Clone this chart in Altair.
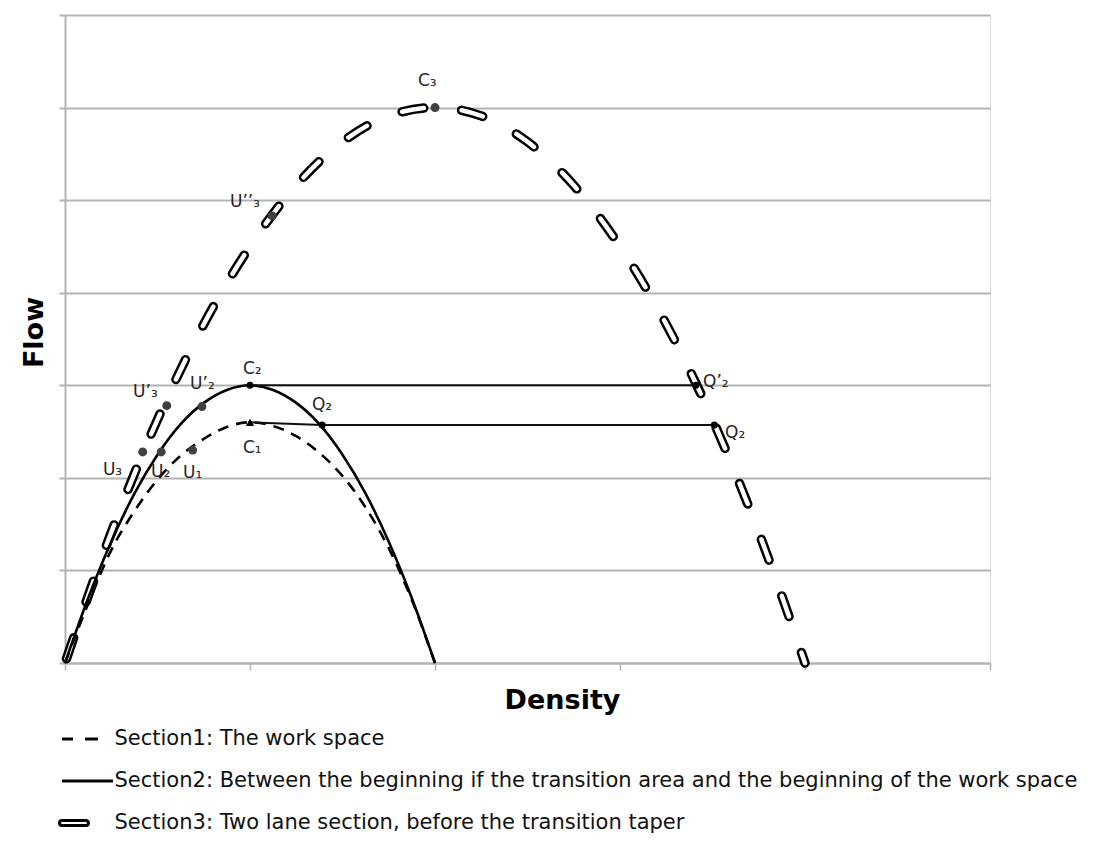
import altair as alt
import pandas as pd

# ---- curves (density units 0..5, flow units 0..7) ----
s12_x = [0, 0.125, 0.25, 0.375, 0.5, 0.625, 0.75, 0.875, 1.0,
         1.125, 1.25, 1.375, 1.5, 1.625, 1.75, 1.875, 2.0]
s1_y = [0, 0.64, 1.22, 1.64, 1.98, 2.24, 2.42, 2.55, 2.6,
        2.56, 2.45, 2.27, 2.02, 1.68, 1.24, 0.68, 0]
s2_y = [0, 0.70, 1.31, 1.83, 2.25, 2.58, 2.81, 2.95, 3.0,
        2.95, 2.81, 2.58, 2.25, 1.83, 1.31, 0.70, 0]
s3_x = [0, 0.25, 0.5, 0.75, 1.0, 1.25, 1.5, 1.75, 2.0,
        2.25, 2.5, 2.75, 3.0, 3.25, 3.5, 3.75, 4.0]
s3_y = [0, 1.41, 2.63, 3.66, 4.5, 5.16, 5.63, 5.91, 6.0,
        5.91, 5.63, 5.16, 4.5, 3.66, 2.63, 1.41, 0]

# connector lines
c2_x = [1.0, 3.41]
c2_y = [3.0, 3.0]
c1_x = [1.0, 1.39, 3.51]
c1_y = [2.6, 2.57, 2.57]

# marked points
gray_x = [2.0, 1.12, 0.55, 0.74, 0.42, 0.52, 0.69]
gray_y = [6.0, 4.83, 2.78, 2.77, 2.28, 2.28, 2.30]
black_x = [1.0, 1.39, 3.41, 3.51]
black_y = [3.0, 2.57, 3.0, 2.57]
tri_x = [1.0]
tri_y = [2.6]

# point labels
lab_text = ["C₃", "U’’₃", "C₂", "U’₂", "U’₃", "Q₂", "C₁", "U₃", "U₂", "U₁", "Q’₂", "Q₂"]
lab_x = [1.908, 0.892, 0.962, 0.676, 0.368, 1.335, 0.962, 0.205, 0.465, 0.638, 3.449, 3.568]
lab_y = [6.233, 4.926, 3.122, 2.960, 2.873, 2.733, 2.269, 2.031, 2.009, 1.998, 2.982, 2.431]

legend_names = [
    "Section1: The work space",
    "Section2: Between the beginning if the transition area and the beginning of the work space",
    "Section3: Two lane section, before the transition taper",
]
legend_shapes = [
    "M-1,0H-0.57M-0.1,0H0.41",
    "M-1,0H1",
    "M-1,-0.1H-0.06A0.1,0.1,0,0,1,-0.06,0.1H-1A0.1,0.1,0,0,1,-1,-0.1Z",
]

GRID = "#b3b3b3"
FONT = "DejaVu Sans"

xs = alt.Scale(domain=[0, 5], nice=False, zero=False)
ys = alt.Scale(domain=[0, 7], nice=False, zero=False)
xaxis = alt.Axis(values=[0, 1, 2, 3, 4, 5], labels=False, grid=False, ticks=True,
                 tickSize=7, tickColor=GRID, tickWidth=1.5, domainColor=GRID,
                 domainWidth=2, title="Density", titleFont=FONT, titleFontSize=27,
                 titleFontWeight="bold", titleColor="black", titleX=497, titleY=45,
                 titleBaseline="alphabetic", titleAlign="center")
yaxis = alt.Axis(values=[0, 1, 2, 3, 4, 5, 6, 7], labels=False, grid=True,
                 gridColor=GRID, gridWidth=2, ticks=True, tickSize=6, tickColor=GRID,
                 tickWidth=2, domainColor=GRID, domainWidth=2, title="Flow",
                 titleFont=FONT, titleFontSize=27, titleFontWeight="bold",
                 titleColor="black", titleAngle=-90, titleX=-23, titleY=317,
                 titleBaseline="alphabetic", titleAlign="center")
X = alt.X("x:Q", scale=xs, axis=xaxis)
Y = alt.Y("y:Q", scale=ys, axis=yaxis)

d1 = pd.DataFrame({"x": s12_x, "y": s1_y})
d2 = pd.DataFrame({"x": s12_x, "y": s2_y})
d3 = pd.DataFrame({"x": s3_x, "y": s3_y})

sec3_outer = alt.Chart(d3).mark_line(
    color="black", strokeWidth=9.5, strokeCap="round", strokeDash=[22, 38],
    strokeDashOffset=55.5, interpolate="monotone").encode(x=X, y=Y)
sec3_inner = alt.Chart(d3).mark_line(
    color="white", strokeWidth=4.5, strokeCap="round", strokeDash=[22, 38],
    strokeDashOffset=55.5, interpolate="monotone").encode(x=X, y=Y)
sec1 = alt.Chart(d1).mark_line(
    color="black", strokeWidth=2.6, strokeDash=[11, 8],
    interpolate="monotone").encode(x=X, y=Y)
sec2 = alt.Chart(d2).mark_line(
    color="black", strokeWidth=2.6, interpolate="monotone").encode(x=X, y=Y)

conn_a = alt.Chart(pd.DataFrame({"x": c2_x, "y": c2_y})).mark_line(
    color="#111", strokeWidth=2).encode(x=X, y=Y)
conn_b = alt.Chart(pd.DataFrame({"x": c1_x, "y": c1_y, "o": list(range(len(c1_x)))})).mark_line(
    color="#111", strokeWidth=2).encode(x=X, y=Y, order="o:Q")

pts_gray = alt.Chart(pd.DataFrame({"x": gray_x, "y": gray_y})).mark_point(
    filled=True, shape="circle", size=80, color="#404040", opacity=1).encode(x=X, y=Y)
pts_black = alt.Chart(pd.DataFrame({"x": black_x, "y": black_y})).mark_point(
    filled=True, shape="circle", size=50, color="black", opacity=1).encode(x=X, y=Y)
pts_tri = alt.Chart(pd.DataFrame({"x": tri_x, "y": tri_y})).mark_point(
    filled=True, shape="triangle-up", size=70, color="black", opacity=1).encode(x=X, y=Y)

labels = alt.Chart(pd.DataFrame({"x": lab_x, "y": lab_y, "t": lab_text})).mark_text(
    align="left", baseline="alphabetic", font=FONT, fontSize=17, color="#262626"
).encode(x=X, y=Y, text="t:N")

leg = alt.Chart(pd.DataFrame({"x": [0, 0, 0], "y": [0, 0, 0], "s": legend_names})).transform_filter(
    "false").mark_point(filled=False, color="black", strokeWidth=3, opacity=1).encode(
    x=X, y=Y,
    shape=alt.Shape("s:N", scale=alt.Scale(domain=legend_names, range=legend_shapes),
                    legend=alt.Legend(orient="none", legendX=-4.5, legendY=697, title=None,
                                      labelFont=FONT, labelFontSize=21, labelColor="#111",
                                      labelLimit=0, symbolSize=2601, symbolStrokeWidth=3,
                                      symbolStrokeColor="black", symbolFillColor="transparent",
                                      rowPadding=5, labelOffset=0, padding=0,
                                      direction="vertical")))

chart = alt.layer(sec3_outer, sec3_inner, sec1, sec2, conn_a, conn_b,
                  pts_gray, pts_black, pts_tri, labels, leg).properties(
    width=925, height=648, autosize="none",
    padding={"left": 57, "top": 7, "right": 90, "bottom": 180},
).configure_view(stroke="transparent", strokeWidth=0, strokeOpacity=0).configure(background="white")

chart.save("out.html", embed_options={"renderer": "svg", "actions": False})
